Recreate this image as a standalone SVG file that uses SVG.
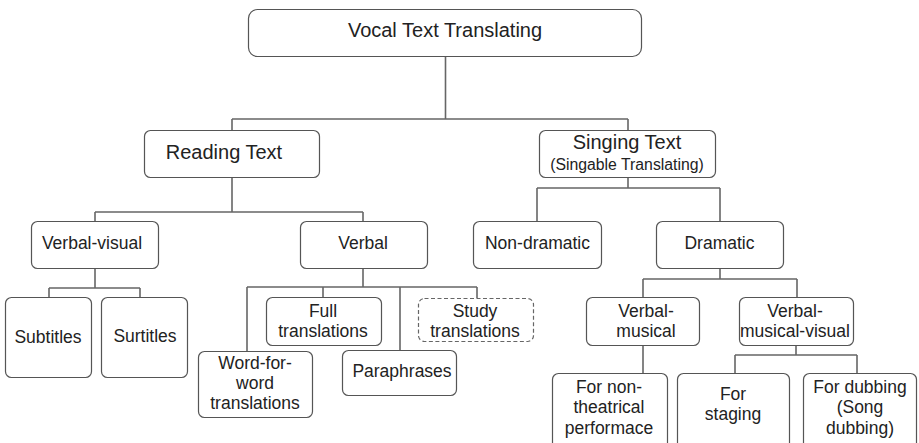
<svg xmlns="http://www.w3.org/2000/svg" width="919" height="443" viewBox="0 0 919 443">
<style>
.box{fill:#fff;stroke:#555;stroke-width:1.2}
.dash{fill:#fff;stroke:#666;stroke-width:1.2;stroke-dasharray:4 2.5}
.t{font-family:"Liberation Sans",Arial,sans-serif;fill:#222;text-anchor:middle}
.big{font-size:20px}
.mid{font-size:17.5px}
.sm{font-size:15.8px}
.con{fill:none;stroke:#666;stroke-width:1.6}
</style>
<rect width="919" height="443" fill="#fff"/>
<g id="connectors" class="con">
<path d="M445.5 56V119M232 119H628M232 119V131M628 119V131"/>
<path d="M232 177V212M95 212H363M95 212V221M363 212V221"/>
<path d="M95 268V288M49 288H140M49 288V297M140 288V297"/>
<path d="M363 268V287M247 287H477M247 287V351M323 287V297M400 287V350M477 287V298"/>
<path d="M628 178V188M537 188H720M537 188V221M720 188V221"/>
<path d="M720 268V279M643 279H797M643 279V297M797 279V297"/>
<path d="M643 345V373M796 345V355M735 355H857M735 355V373M857 355V373"/>
</g>
<g id="n-root"><rect class="box" x="248.5" y="9.5" width="393" height="47" rx="9"/><text class="t big" x="445" y="37">Vocal Text Translating</text></g>
<g id="n-reading"><rect class="box" x="144.5" y="130.5" width="175" height="47" rx="6"/><text class="t big" x="224" y="159">Reading Text</text></g>
<g id="n-singing"><rect class="box" x="539.5" y="130.5" width="176" height="47" rx="6"/><text class="t big" x="627" y="149">Singing Text</text><text class="t sm" x="627" y="170">(Singable Translating)</text></g>
<g id="n-verbalvisual"><rect class="box" x="31.5" y="221.5" width="127" height="47" rx="6"/><text class="t mid" x="92" y="249">Verbal-visual</text></g>
<g id="n-verbal"><rect class="box" x="300.5" y="221.5" width="127" height="47" rx="6"/><text class="t mid" x="363" y="249">Verbal</text></g>
<g id="n-nondramatic"><rect class="box" x="473.5" y="221.5" width="128" height="47" rx="6"/><text class="t mid" x="537.5" y="249">Non-dramatic</text></g>
<g id="n-dramatic"><rect class="box" x="656.5" y="221.5" width="127" height="47" rx="6"/><text class="t mid" x="719.5" y="249">Dramatic</text></g>
<g id="n-subtitles"><rect class="box" x="5.5" y="297.5" width="86" height="80" rx="6"/><text class="t mid" x="48" y="343">Subtitles</text></g>
<g id="n-surtitles"><rect class="box" x="101.5" y="297.5" width="86" height="80" rx="6"/><text class="t mid" x="145" y="342">Surtitles</text></g>
<g id="n-full"><rect class="box" x="266.5" y="297.5" width="115" height="48" rx="6"/><text class="t mid" x="323" y="317">Full</text><text class="t mid" x="323" y="337">translations</text></g>
<g id="n-study"><rect class="dash" x="418.5" y="298.5" width="115" height="43" rx="6"/><text class="t mid" x="475" y="317">Study</text><text class="t mid" x="475" y="337">translations</text></g>
<g id="n-wordforword"><rect class="box" x="198.5" y="351.5" width="114" height="66" rx="6"/><text class="t mid" x="255" y="369">Word-for-</text><text class="t mid" x="255" y="389">word</text><text class="t mid" x="255" y="409">translations</text></g>
<g id="n-paraphrases"><rect class="box" x="342.5" y="350.5" width="114" height="45" rx="6"/><text class="t mid" x="402" y="377">Paraphrases</text></g>
<g id="n-verbalmusical"><rect class="box" x="586.5" y="297.5" width="113" height="48" rx="6"/><text class="t mid" x="646" y="317">Verbal-</text><text class="t mid" x="646" y="337">musical</text></g>
<g id="n-vmv"><rect class="box" x="739.5" y="297.5" width="114" height="48" rx="6"/><text class="t mid" x="795" y="317">Verbal-</text><text class="t mid" x="795" y="337">musical-visual</text></g>
<g id="n-nontheatrical"><rect class="box" x="552.5" y="373.5" width="115" height="80" rx="6"/><text class="t mid" x="609" y="393">For non-</text><text class="t mid" x="609" y="413">theatrical</text><text class="t mid" x="609" y="434">performace</text></g>
<g id="n-staging"><rect class="box" x="677.5" y="373.5" width="112" height="80" rx="6"/><text class="t mid" x="733" y="400">For</text><text class="t mid" x="733" y="420">staging</text></g>
<g id="n-dubbing"><rect class="box" x="803.5" y="373.5" width="113" height="80" rx="6"/><text class="t mid" x="860" y="393">For dubbing</text><text class="t mid" x="860" y="413">(Song</text><text class="t mid" x="860" y="434">dubbing)</text></g>
</svg>
